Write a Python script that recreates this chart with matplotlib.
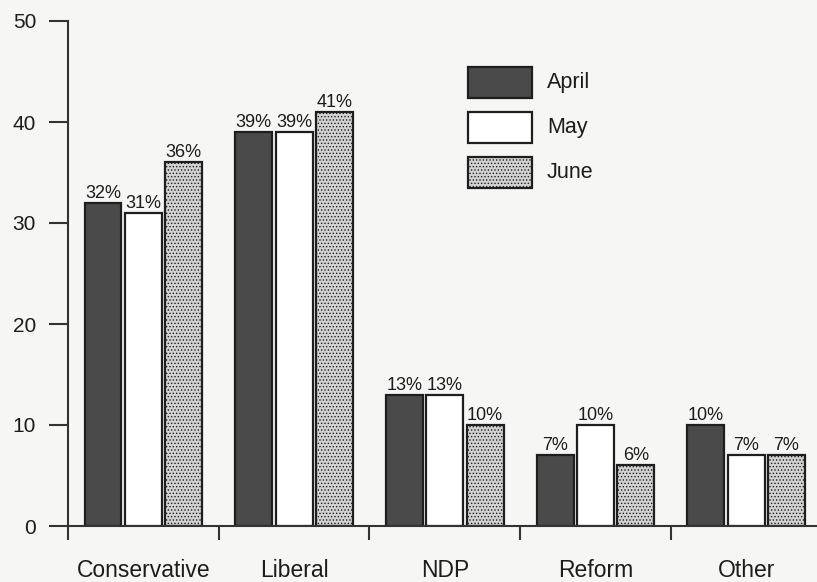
import numpy as np
import matplotlib.pyplot as plt
from matplotlib.patches import Rectangle

# Datos del grafico
partidos = ['Conservative', 'Liberal', 'NDP', 'Reform', 'Other']
meses = ['April', 'May', 'June']
abril = [32, 39, 13, 7, 10]
mayo = [31, 39, 13, 10, 7]
junio = [36, 41, 10, 6, 7]

plt.rcParams['font.family'] = ['Liberation Sans', 'DejaVu Sans']
plt.rcParams['hatch.color'] = '#8a8a8a'
plt.rcParams['hatch.linewidth'] = 0.6

fondo = '#f6f6f4'
texto = '#1c1c1c'
W, H = 817, 582
fig = plt.figure(figsize=(W / 100, H / 100), dpi=100, facecolor=fondo)
ax = fig.add_axes([68/W, 1 - 526/H, 1 - 68/W, (526 - 21)/H])
ax.set_facecolor(fondo)

x = np.arange(len(partidos))
ancho = 0.245
paso = 0.268
estilos = [
    dict(facecolor='#4a4a4a', hatch=None),
    dict(facecolor='white', hatch=None),
    dict(facecolor='#d2d2d2', hatch='.....'),
]
series = [abril, mayo, junio]
for i, (valores, estilo) in enumerate(zip(series, estilos)):
    barras = ax.bar(x + (i - 1) * paso, valores, width=ancho, edgecolor='#1e1e1e',
                    linewidth=1.6, label=meses[i], **estilo)
    # Etiquetas de porcentaje sobre cada barra
    for b, v in zip(barras, valores):
        ax.text(b.get_x() + b.get_width() / 2, v + 0.5, f'{v}%', ha='center', va='baseline',
                fontsize=13, color=texto)

ax.set_xlim(-0.5, 4.47)
ax.set_ylim(0, 50)
ax.set_yticks([0, 10, 20, 30, 40, 50])
ax.tick_params(axis='y', direction='out', length=14, width=1.5, pad=9,
               labelsize=15, color='#333333', labelcolor=texto)
# Categorias centradas sin marcas, marcas en los limites de cada grupo
ax.set_xticks(x)
ax.set_xticklabels(partidos)
ax.tick_params(axis='x', which='major', length=0, pad=23.5, labelsize=16.5, labelcolor=texto)
ax.set_xticks(np.arange(-0.5, 4.0, 1.0), minor=True)
ax.tick_params(axis='x', which='minor', direction='out', length=10, width=1.5, color='#333333')

for lado in ['top', 'right']:
    ax.spines[lado].set_visible(False)
for lado in ['left', 'bottom']:
    ax.spines[lado].set_linewidth(1.5)
    ax.spines[lado].set_color('#333333')

# Leyenda dibujada a mano (cajas y textos en pixeles de la figura)
for i, (m, e) in enumerate(zip(meses, estilos)):
    arriba = 67 + 45 * i
    caja = Rectangle((468 / W, 1 - (arriba + 31) / H), 64 / W, 31 / H, transform=fig.transFigure,
                     edgecolor='#1e1e1e', linewidth=1.6, **e)
    fig.add_artist(caja)
    fig.text(547 / W, 1 - (arriba + 15.5) / H, m, ha='left', va='center', fontsize=15.5, color=texto)

plt.savefig('out.png', dpi=100, facecolor=fondo)
